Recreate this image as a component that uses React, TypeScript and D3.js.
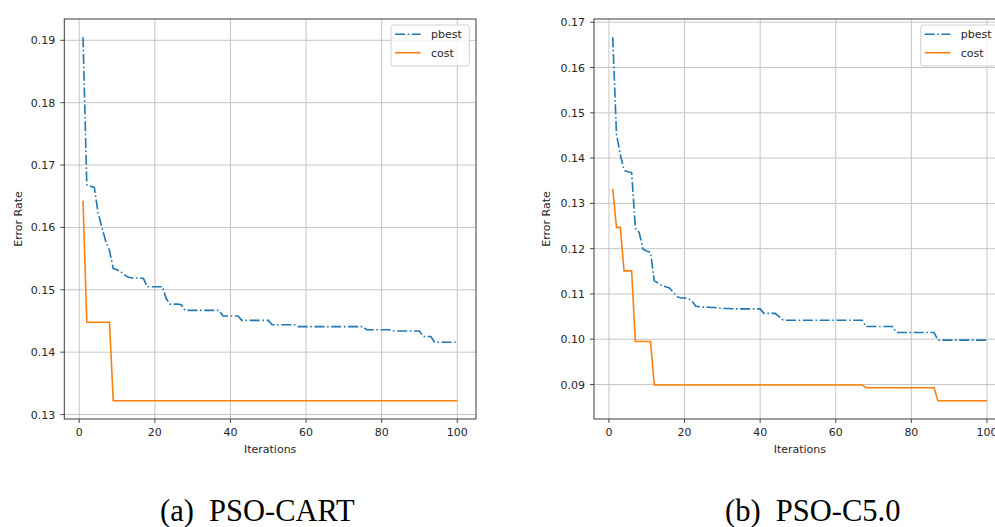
import React from "react";
import * as d3 from "d3";

const ITERATIONS: number[] = d3.range(1, 101);

const X_TICKS = [0, 20, 40, 60, 80, 100];
const LEFT_Y_TICKS = [0.13, 0.14, 0.15, 0.16, 0.17, 0.18, 0.19];
const RIGHT_Y_TICKS = [0.09, 0.1, 0.11, 0.12, 0.13, 0.14, 0.15, 0.16, 0.17];

const SERIES_NAMES = ["pbest", "cost"];
const CAPTIONS = ["(a)  PSO-CART", "(b)  PSO-C5.0"];

const LEFT_PBEST = [
  0.1905, 0.1668, 0.1666, 0.1664, 0.1623, 0.16, 0.1578, 0.1563, 0.1534, 0.1532,
  0.1529, 0.1524, 0.152, 0.1519, 0.1519, 0.1519, 0.1518, 0.1505, 0.1505, 0.1505,
  0.1505, 0.1505, 0.1486, 0.1477, 0.1477, 0.1477, 0.1476, 0.1467, 0.1467, 0.1467,
  0.1467, 0.1467, 0.1467, 0.1467, 0.1467, 0.1467, 0.1467, 0.1458, 0.1458, 0.1458,
  0.1458, 0.1458, 0.1451, 0.1451, 0.1451, 0.1451, 0.1451, 0.1451, 0.1451, 0.1451,
  0.1444, 0.1444, 0.1444, 0.1444, 0.1444, 0.1444, 0.1444, 0.1441, 0.1441, 0.1441,
  0.1441, 0.1441, 0.1441, 0.1441, 0.1441, 0.1441, 0.1441, 0.1441, 0.1441, 0.1441,
  0.1441, 0.1441, 0.1441, 0.1441, 0.1441, 0.1436, 0.1436, 0.1436, 0.1436, 0.1436,
  0.1436, 0.1436, 0.1434, 0.1434, 0.1434, 0.1434, 0.1434, 0.1434, 0.1434, 0.1434,
  0.1425, 0.1425, 0.1425, 0.1416, 0.1416, 0.1416, 0.1416, 0.1416, 0.1416, 0.1416,
];

const LEFT_COST = [
  0.1643, 0.1448, 0.1448, 0.1448, 0.1448, 0.1448, 0.1448, 0.1448, 0.1322, 0.1322,
  0.1322, 0.1322, 0.1322, 0.1322, 0.1322, 0.1322, 0.1322, 0.1322, 0.1322, 0.1322,
  0.1322, 0.1322, 0.1322, 0.1322, 0.1322, 0.1322, 0.1322, 0.1322, 0.1322, 0.1322,
  0.1322, 0.1322, 0.1322, 0.1322, 0.1322, 0.1322, 0.1322, 0.1322, 0.1322, 0.1322,
  0.1322, 0.1322, 0.1322, 0.1322, 0.1322, 0.1322, 0.1322, 0.1322, 0.1322, 0.1322,
  0.1322, 0.1322, 0.1322, 0.1322, 0.1322, 0.1322, 0.1322, 0.1322, 0.1322, 0.1322,
  0.1322, 0.1322, 0.1322, 0.1322, 0.1322, 0.1322, 0.1322, 0.1322, 0.1322, 0.1322,
  0.1322, 0.1322, 0.1322, 0.1322, 0.1322, 0.1322, 0.1322, 0.1322, 0.1322, 0.1322,
  0.1322, 0.1322, 0.1322, 0.1322, 0.1322, 0.1322, 0.1322, 0.1322, 0.1322, 0.1322,
  0.1322, 0.1322, 0.1322, 0.1322, 0.1322, 0.1322, 0.1322, 0.1322, 0.1322, 0.1322,
];

const RIGHT_PBEST = [
  0.1667, 0.1453, 0.1408, 0.1373, 0.137, 0.1368, 0.1245, 0.1236, 0.1199, 0.1195,
  0.1192, 0.1129, 0.1124, 0.1118, 0.1116, 0.1113, 0.1104, 0.1094, 0.1091, 0.1091,
  0.109, 0.1084, 0.1073, 0.1072, 0.1071, 0.1071, 0.107, 0.107, 0.1069, 0.1068,
  0.1068, 0.1068, 0.1067, 0.1067, 0.1067, 0.1067, 0.1067, 0.1067, 0.1067, 0.1067,
  0.1057, 0.1057, 0.1057, 0.1057, 0.105, 0.1043, 0.1042, 0.1042, 0.1042, 0.1042,
  0.1042, 0.1042, 0.1042, 0.1042, 0.1042, 0.1042, 0.1042, 0.1042, 0.1042, 0.1042,
  0.1042, 0.1042, 0.1042, 0.1042, 0.1042, 0.1042, 0.1042, 0.1028, 0.1028, 0.1028,
  0.1028, 0.1028, 0.1028, 0.1028, 0.1028, 0.1015, 0.1015, 0.1015, 0.1015, 0.1015,
  0.1015, 0.1015, 0.1015, 0.1015, 0.1015, 0.1015, 0.0998, 0.0998, 0.0998, 0.0998,
  0.0998, 0.0998, 0.0998, 0.0998, 0.0998, 0.0998, 0.0998, 0.0998, 0.0998, 0.0998,
];

const RIGHT_COST = [
  0.1332, 0.1247, 0.1247, 0.1151, 0.1151, 0.1151, 0.0995, 0.0995, 0.0995, 0.0995,
  0.0995, 0.0899, 0.0899, 0.0899, 0.0899, 0.0899, 0.0899, 0.0899, 0.0899, 0.0899,
  0.0899, 0.0899, 0.0899, 0.0899, 0.0899, 0.0899, 0.0899, 0.0899, 0.0899, 0.0899,
  0.0899, 0.0899, 0.0899, 0.0899, 0.0899, 0.0899, 0.0899, 0.0899, 0.0899, 0.0899,
  0.0899, 0.0899, 0.0899, 0.0899, 0.0899, 0.0899, 0.0899, 0.0899, 0.0899, 0.0899,
  0.0899, 0.0899, 0.0899, 0.0899, 0.0899, 0.0899, 0.0899, 0.0899, 0.0899, 0.0899,
  0.0899, 0.0899, 0.0899, 0.0899, 0.0899, 0.0899, 0.0899, 0.0893, 0.0893, 0.0893,
  0.0893, 0.0893, 0.0893, 0.0893, 0.0893, 0.0893, 0.0893, 0.0893, 0.0893, 0.0893,
  0.0893, 0.0893, 0.0893, 0.0893, 0.0893, 0.0893, 0.0864, 0.0864, 0.0864, 0.0864,
  0.0864, 0.0864, 0.0864, 0.0864, 0.0864, 0.0864, 0.0864, 0.0864, 0.0864, 0.0864,
];

const BLUE = "#1f77b4";
const ORANGE = "#ff7f0e";
const FONT = "DejaVu Sans";
const TEXT = "#262626";

const PT = 19;
const PH = 400;
const PW = 411.7;

type PanelProps = {
  ox: number;
  pbest: number[];
  cost: number[];
  yTicks: number[];
  ylabelX: number;
};

function Panel({ ox, pbest, cost, yTicks, ylabelX }: PanelProps) {
  const all = pbest.concat(cost);
  const mn = d3.min(all) as number;
  const mx = d3.max(all) as number;
  const pad = (mx - mn) * 0.05;
  const xPad = (100 - 1) * 0.05;
  const x = d3.scaleLinear().domain([1 - xPad, 100 + xPad]).range([ox, ox + PW]);
  const y = d3.scaleLinear().domain([mn - pad, mx + pad]).range([PT + PH, PT]);
  const line = d3
    .line<number>()
    .x((_, i) => x(ITERATIONS[i]))
    .y((d) => y(d));
  const bottom = PT + PH;
  const right = ox + PW;
  const lgX = right - 6.7 - 78.3;
  const lgY = PT + 6;
  return (
    <g>
      {X_TICKS.map((t) => (
        <line key={"gx" + t} x1={x(t)} x2={x(t)} y1={PT} y2={bottom} stroke="#c6c6c6" strokeWidth={1} />
      ))}
      {yTicks.map((t) => (
        <line key={"gy" + t} x1={ox} x2={right} y1={y(t)} y2={y(t)} stroke="#c6c6c6" strokeWidth={1} />
      ))}
      <path d={line(pbest) || ""} fill="none" stroke={BLUE} strokeWidth={1.6} strokeDasharray="10,2.6,1.6,2.6" />
      <path d={line(cost) || ""} fill="none" stroke={ORANGE} strokeWidth={1.6} />
      <rect x={ox} y={PT} width={PW} height={PH} fill="none" stroke="#3a3a3a" strokeWidth={1} />
      {X_TICKS.map((t) => (
        <g key={"tx" + t}>
          <line x1={x(t)} x2={x(t)} y1={bottom} y2={bottom + 4} stroke="#3a3a3a" strokeWidth={0.9} />
          <text x={x(t)} y={bottom + 17} textAnchor="middle" fontFamily={FONT} fontSize={11} fill={TEXT}>
            {t}
          </text>
        </g>
      ))}
      {yTicks.map((t) => (
        <g key={"ty" + t}>
          <line x1={ox - 4} x2={ox} y1={y(t)} y2={y(t)} stroke="#3a3a3a" strokeWidth={0.9} />
          <text x={ox - 9} y={y(t) + 4} textAnchor="end" fontFamily={FONT} fontSize={11} fill={TEXT}>
            {t.toFixed(2)}
          </text>
        </g>
      ))}
      <text x={(ox + right) / 2} y={bottom + 33.5} textAnchor="middle" fontFamily={FONT} fontSize={11} fill={TEXT}>
        Iterations
      </text>
      <text
        transform={`translate(${ylabelX},${PT + PH / 2}) rotate(-90)`}
        textAnchor="middle"
        fontFamily={FONT}
        fontSize={11}
        fill={TEXT}
      >
        Error Rate
      </text>
      <rect x={lgX} y={lgY} width={78.3} height={41} rx={2.5} fill="#fff" fillOpacity={0.8} stroke="#d0d0d0" strokeWidth={1} />
      <line x1={lgX + 4} x2={lgX + 29.7} y1={lgY + 9.3} y2={lgY + 9.3} stroke={BLUE} strokeWidth={1.6} strokeDasharray="10,2.6,1.6,2.6" />
      <line x1={lgX + 4} x2={lgX + 29.7} y1={lgY + 27.7} y2={lgY + 27.7} stroke={ORANGE} strokeWidth={1.6} />
      <text x={lgX + 40} y={lgY + 13.3} fontFamily={FONT} fontSize={11} fill={TEXT}>
        {SERIES_NAMES[0]}
      </text>
      <text x={lgX + 40} y={lgY + 31.7} fontFamily={FONT} fontSize={11} fill={TEXT}>
        {SERIES_NAMES[1]}
      </text>
    </g>
  );
}

export default function App() {
  return (
    <svg
      width={995}
      height={527}
      style={{ position: "absolute", left: 0, top: 0, background: "#fff" }}
    >
      <rect x={0} y={0} width={995} height={527} fill="#fff" />
      <Panel ox={64.3} pbest={LEFT_PBEST} cost={LEFT_COST} yTicks={LEFT_Y_TICKS} ylabelX={21.5} />
      <Panel ox={594} pbest={RIGHT_PBEST} cost={RIGHT_COST} yTicks={RIGHT_Y_TICKS} ylabelX={549.5} />
      <text x={160} y={521} fontFamily="Liberation Serif" fontSize={30.5} fill="#000" style={{ whiteSpace: "pre" }}>
        {CAPTIONS[0]}
      </text>
      <text x={725} y={521} fontFamily="Liberation Serif" fontSize={30.5} fill="#000" style={{ whiteSpace: "pre" }}>
        {CAPTIONS[1]}
      </text>
    </svg>
  );
}
